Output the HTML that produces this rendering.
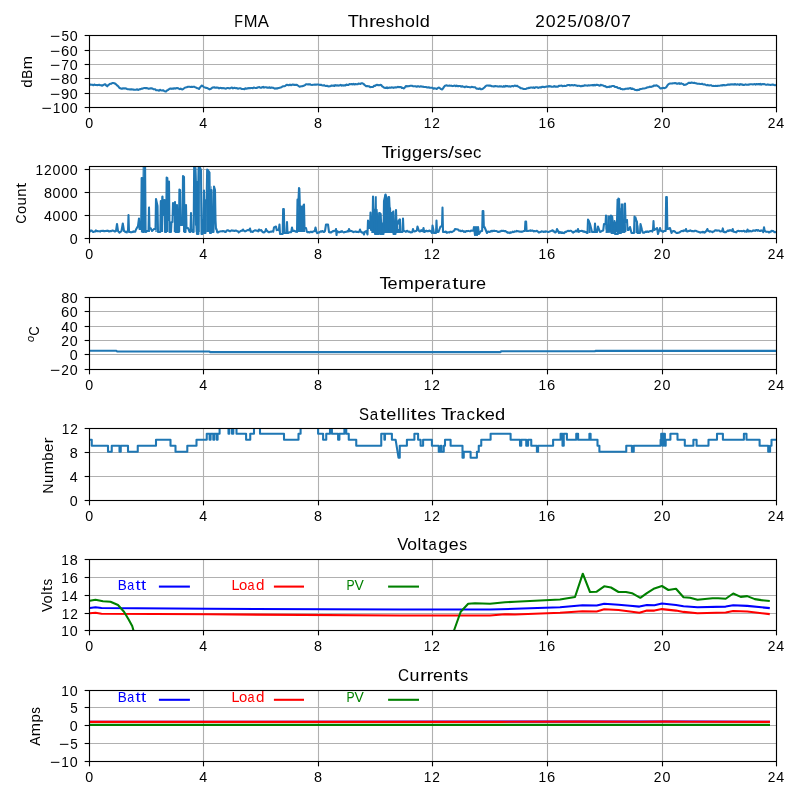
<!DOCTYPE html>
<html><head><meta charset="utf-8"><style>
html,body{margin:0;padding:0;background:#fff;}
body{width:800px;height:800px;overflow:hidden;}
svg{display:block;}
text{font-family:"Liberation Sans", sans-serif;}
svg{-webkit-font-smoothing:antialiased;will-change:transform;}
</style></head><body>
<svg width="800" height="800" viewBox="0 0 800 800">
<rect width="800" height="800" fill="#fff"/>
<line x1="89.5" y1="35.5" x2="89.5" y2="107.5" stroke="#b0b0b0" stroke-width="1.11"/>
<line x1="203.5" y1="35.5" x2="203.5" y2="107.5" stroke="#b0b0b0" stroke-width="1.11"/>
<line x1="318.5" y1="35.5" x2="318.5" y2="107.5" stroke="#b0b0b0" stroke-width="1.11"/>
<line x1="432.5" y1="35.5" x2="432.5" y2="107.5" stroke="#b0b0b0" stroke-width="1.11"/>
<line x1="547.5" y1="35.5" x2="547.5" y2="107.5" stroke="#b0b0b0" stroke-width="1.11"/>
<line x1="662.5" y1="35.5" x2="662.5" y2="107.5" stroke="#b0b0b0" stroke-width="1.11"/>
<line x1="776.5" y1="35.5" x2="776.5" y2="107.5" stroke="#b0b0b0" stroke-width="1.11"/>
<line x1="89.5" y1="107.5" x2="776.5" y2="107.5" stroke="#b0b0b0" stroke-width="1.11"/>
<line x1="89.5" y1="93.5" x2="776.5" y2="93.5" stroke="#b0b0b0" stroke-width="1.11"/>
<line x1="89.5" y1="78.5" x2="776.5" y2="78.5" stroke="#b0b0b0" stroke-width="1.11"/>
<line x1="89.5" y1="64.5" x2="776.5" y2="64.5" stroke="#b0b0b0" stroke-width="1.11"/>
<line x1="89.5" y1="50.5" x2="776.5" y2="50.5" stroke="#b0b0b0" stroke-width="1.11"/>
<line x1="89.5" y1="35.5" x2="776.5" y2="35.5" stroke="#b0b0b0" stroke-width="1.11"/>
<line x1="89.5" y1="166.5" x2="89.5" y2="238.5" stroke="#b0b0b0" stroke-width="1.11"/>
<line x1="203.5" y1="166.5" x2="203.5" y2="238.5" stroke="#b0b0b0" stroke-width="1.11"/>
<line x1="318.5" y1="166.5" x2="318.5" y2="238.5" stroke="#b0b0b0" stroke-width="1.11"/>
<line x1="432.5" y1="166.5" x2="432.5" y2="238.5" stroke="#b0b0b0" stroke-width="1.11"/>
<line x1="547.5" y1="166.5" x2="547.5" y2="238.5" stroke="#b0b0b0" stroke-width="1.11"/>
<line x1="662.5" y1="166.5" x2="662.5" y2="238.5" stroke="#b0b0b0" stroke-width="1.11"/>
<line x1="776.5" y1="166.5" x2="776.5" y2="238.5" stroke="#b0b0b0" stroke-width="1.11"/>
<line x1="89.5" y1="238.5" x2="776.5" y2="238.5" stroke="#b0b0b0" stroke-width="1.11"/>
<line x1="89.5" y1="215.5" x2="776.5" y2="215.5" stroke="#b0b0b0" stroke-width="1.11"/>
<line x1="89.5" y1="192.5" x2="776.5" y2="192.5" stroke="#b0b0b0" stroke-width="1.11"/>
<line x1="89.5" y1="169.5" x2="776.5" y2="169.5" stroke="#b0b0b0" stroke-width="1.11"/>
<line x1="89.5" y1="297.5" x2="89.5" y2="369.5" stroke="#b0b0b0" stroke-width="1.11"/>
<line x1="203.5" y1="297.5" x2="203.5" y2="369.5" stroke="#b0b0b0" stroke-width="1.11"/>
<line x1="318.5" y1="297.5" x2="318.5" y2="369.5" stroke="#b0b0b0" stroke-width="1.11"/>
<line x1="432.5" y1="297.5" x2="432.5" y2="369.5" stroke="#b0b0b0" stroke-width="1.11"/>
<line x1="547.5" y1="297.5" x2="547.5" y2="369.5" stroke="#b0b0b0" stroke-width="1.11"/>
<line x1="662.5" y1="297.5" x2="662.5" y2="369.5" stroke="#b0b0b0" stroke-width="1.11"/>
<line x1="776.5" y1="297.5" x2="776.5" y2="369.5" stroke="#b0b0b0" stroke-width="1.11"/>
<line x1="89.5" y1="369.5" x2="776.5" y2="369.5" stroke="#b0b0b0" stroke-width="1.11"/>
<line x1="89.5" y1="354.5" x2="776.5" y2="354.5" stroke="#b0b0b0" stroke-width="1.11"/>
<line x1="89.5" y1="340.5" x2="776.5" y2="340.5" stroke="#b0b0b0" stroke-width="1.11"/>
<line x1="89.5" y1="326.5" x2="776.5" y2="326.5" stroke="#b0b0b0" stroke-width="1.11"/>
<line x1="89.5" y1="311.5" x2="776.5" y2="311.5" stroke="#b0b0b0" stroke-width="1.11"/>
<line x1="89.5" y1="297.5" x2="776.5" y2="297.5" stroke="#b0b0b0" stroke-width="1.11"/>
<line x1="89.5" y1="428.5" x2="89.5" y2="500.5" stroke="#b0b0b0" stroke-width="1.11"/>
<line x1="203.5" y1="428.5" x2="203.5" y2="500.5" stroke="#b0b0b0" stroke-width="1.11"/>
<line x1="318.5" y1="428.5" x2="318.5" y2="500.5" stroke="#b0b0b0" stroke-width="1.11"/>
<line x1="432.5" y1="428.5" x2="432.5" y2="500.5" stroke="#b0b0b0" stroke-width="1.11"/>
<line x1="547.5" y1="428.5" x2="547.5" y2="500.5" stroke="#b0b0b0" stroke-width="1.11"/>
<line x1="662.5" y1="428.5" x2="662.5" y2="500.5" stroke="#b0b0b0" stroke-width="1.11"/>
<line x1="776.5" y1="428.5" x2="776.5" y2="500.5" stroke="#b0b0b0" stroke-width="1.11"/>
<line x1="89.5" y1="500.5" x2="776.5" y2="500.5" stroke="#b0b0b0" stroke-width="1.11"/>
<line x1="89.5" y1="476.5" x2="776.5" y2="476.5" stroke="#b0b0b0" stroke-width="1.11"/>
<line x1="89.5" y1="452.5" x2="776.5" y2="452.5" stroke="#b0b0b0" stroke-width="1.11"/>
<line x1="89.5" y1="428.5" x2="776.5" y2="428.5" stroke="#b0b0b0" stroke-width="1.11"/>
<line x1="89.5" y1="559.5" x2="89.5" y2="630.5" stroke="#b0b0b0" stroke-width="1.11"/>
<line x1="203.5" y1="559.5" x2="203.5" y2="630.5" stroke="#b0b0b0" stroke-width="1.11"/>
<line x1="318.5" y1="559.5" x2="318.5" y2="630.5" stroke="#b0b0b0" stroke-width="1.11"/>
<line x1="432.5" y1="559.5" x2="432.5" y2="630.5" stroke="#b0b0b0" stroke-width="1.11"/>
<line x1="547.5" y1="559.5" x2="547.5" y2="630.5" stroke="#b0b0b0" stroke-width="1.11"/>
<line x1="662.5" y1="559.5" x2="662.5" y2="630.5" stroke="#b0b0b0" stroke-width="1.11"/>
<line x1="776.5" y1="559.5" x2="776.5" y2="630.5" stroke="#b0b0b0" stroke-width="1.11"/>
<line x1="89.5" y1="630.5" x2="776.5" y2="630.5" stroke="#b0b0b0" stroke-width="1.11"/>
<line x1="89.5" y1="613.5" x2="776.5" y2="613.5" stroke="#b0b0b0" stroke-width="1.11"/>
<line x1="89.5" y1="595.5" x2="776.5" y2="595.5" stroke="#b0b0b0" stroke-width="1.11"/>
<line x1="89.5" y1="577.5" x2="776.5" y2="577.5" stroke="#b0b0b0" stroke-width="1.11"/>
<line x1="89.5" y1="559.5" x2="776.5" y2="559.5" stroke="#b0b0b0" stroke-width="1.11"/>
<line x1="89.5" y1="690.5" x2="89.5" y2="761.5" stroke="#b0b0b0" stroke-width="1.11"/>
<line x1="203.5" y1="690.5" x2="203.5" y2="761.5" stroke="#b0b0b0" stroke-width="1.11"/>
<line x1="318.5" y1="690.5" x2="318.5" y2="761.5" stroke="#b0b0b0" stroke-width="1.11"/>
<line x1="432.5" y1="690.5" x2="432.5" y2="761.5" stroke="#b0b0b0" stroke-width="1.11"/>
<line x1="547.5" y1="690.5" x2="547.5" y2="761.5" stroke="#b0b0b0" stroke-width="1.11"/>
<line x1="662.5" y1="690.5" x2="662.5" y2="761.5" stroke="#b0b0b0" stroke-width="1.11"/>
<line x1="776.5" y1="690.5" x2="776.5" y2="761.5" stroke="#b0b0b0" stroke-width="1.11"/>
<line x1="89.5" y1="761.5" x2="776.5" y2="761.5" stroke="#b0b0b0" stroke-width="1.11"/>
<line x1="89.5" y1="743.5" x2="776.5" y2="743.5" stroke="#b0b0b0" stroke-width="1.11"/>
<line x1="89.5" y1="725.5" x2="776.5" y2="725.5" stroke="#b0b0b0" stroke-width="1.11"/>
<line x1="89.5" y1="707.5" x2="776.5" y2="707.5" stroke="#b0b0b0" stroke-width="1.11"/>
<line x1="89.5" y1="690.5" x2="776.5" y2="690.5" stroke="#b0b0b0" stroke-width="1.11"/>
<clipPath id="c0"><rect x="89.5" y="35.5" width="687.0" height="72.0"/></clipPath>
<clipPath id="c1"><rect x="89.5" y="166.5" width="687.0" height="72.0"/></clipPath>
<clipPath id="c2"><rect x="89.5" y="297.5" width="687.0" height="72.0"/></clipPath>
<clipPath id="c3"><rect x="89.5" y="428.5" width="687.0" height="72.0"/></clipPath>
<clipPath id="c4"><rect x="89.5" y="559.5" width="687.0" height="71.0"/></clipPath>
<clipPath id="c5"><rect x="89.5" y="690.5" width="687.0" height="71.0"/></clipPath>
<path clip-path="url(#c1)" d="M140.9,232.5 L140.9,218 L141.49,218 L141.49,177.8 L142.5,177.8 L142.67,166.9 L143.67,166.9 L143.8,232.5Z" fill="#1f77b4"/>
<path clip-path="url(#c1)" d="M148.78,232 L148.99,206.8 L149.75,206.8 L149.92,232Z" fill="#1f77b4"/>
<path clip-path="url(#c1)" d="M155.4,232 L155.69,198.7 L156.24,198.7 L156.62,206 L156.7,232Z" fill="#1f77b4"/>
<path clip-path="url(#c1)" d="M160.95,232 L161.24,205 L161.58,196.3 L162.42,196.3 L163.05,202 L163.05,232Z" fill="#1f77b4"/>
<path clip-path="url(#c1)" d="M166.01,232 L166.34,177.3 L167.06,177.3 L167.69,181.6 L168.11,200 L168.19,232Z" fill="#1f77b4"/>
<path clip-path="url(#c1)" d="M173.75,232 L173.92,205 L174.55,202.5 L175.39,203 L176.15,208 L176.15,232Z" fill="#1f77b4"/>
<path clip-path="url(#c1)" d="M178.79,232 L179.08,189.2 L179.92,189.2 L180.21,232Z" fill="#1f77b4"/>
<path clip-path="url(#c1)" d="M183.02,232 L183.28,175.9 L184.03,175.9 L184.12,204.9 L185.17,204.9 L185.38,232Z" fill="#1f77b4"/>
<path clip-path="url(#c1)" d="M190.8,232 L191.01,213 L191.59,213 L191.8,232Z" fill="#1f77b4"/>
<path clip-path="url(#c1)" d="M195.73,232 L195.94,167.3 L196.48,167.3 L196.78,181 L197.41,181 L197.66,167.3 L199.09,167.3 L199.67,178 L199.67,232Z" fill="#1f77b4"/>
<path clip-path="url(#c1)" d="M206.2,232 L206.45,190.6 L207.29,190.6 L207.79,169.7 L208.76,169.7 L209.6,172.6 L209.81,190 L210.23,190 L210.44,215 L210.78,186.3 L211.49,186.3 L211.7,232Z" fill="#1f77b4"/>
<path clip-path="url(#c1)" d="M282.75,232 L282.88,208.5 L283.72,208.5 L283.85,232Z" fill="#1f77b4"/>
<path clip-path="url(#c1)" d="M297.9,232 L298.14,199 L298.78,199 L298.94,187.9 L300.3,187.9 L300.7,205.9 L302.38,205.9 L302.7,204.4 L303.9,204.4 L304.94,228 L305.1,232Z" fill="#1f77b4"/>
<path clip-path="url(#c1)" d="M371.3,233 L371.54,220 L372.74,220 L372.9,212.1 L374.58,212.1 L374.82,196.3 L376.74,196.3 L376.9,209 L377.54,209 L378.9,223.5 L379.54,223.5 L379.78,213.2 L381.7,213.2 L382.1,222.5 L382.9,222.5 L383.06,214.6 L384.1,201.5 L384.5,194.6 L386.66,194.6 L387.22,197.4 L388.82,197.4 L388.98,207.7 L389.94,207.7 L390.18,218 L391.06,212.1 L392.66,212.1 L392.66,210.4 L394.34,210.4 L395.14,223.5 L395.86,223.5 L396.02,219.7 L397.62,219.7 L398.34,229 L399.14,229 L399.3,218.7 L400.9,218.7 L401.46,230.4 L401.7,233Z" fill="#1f77b4"/>
<path clip-path="url(#c1)" d="M475.6,227.5 L477.9,227.5 L477.9,233 L476.44,235 L475.6,234Z" fill="#1f77b4"/>
<path clip-path="url(#c1)" d="M588.51,233 L588.63,220 L589.22,220 L590.4,226 L590.69,233Z" fill="#1f77b4"/>
<path clip-path="url(#c1)" d="M605.6,233 L605.76,224.4 L607.2,224.4 L607.36,215.6 L608.88,215.6 L609.6,225 L610.32,215.6 L613.12,215.6 L613.76,221.7 L615.92,221.7 L616.56,199 L619.36,199 L619.6,211.2 L620.48,211.2 L620.64,203.4 L623.6,203.4 L624,220 L625.36,220 L626.4,232 L605.6,233Z" fill="#1f77b4"/>
<path clip-path="url(#c1)" d="M635.47,233 L635.63,216.5 L636.3,216.5 L637.14,222 L638.4,226 L639.03,233Z" fill="#1f77b4"/>
<path clip-path="url(#c0)" d="M89.5,84.8 L90.47,84.58 L91.44,84.74 L92.41,84.79 L93.38,85.19 L94.35,84.51 L95.32,85.07 L96.29,85.01 L97.26,85.09 L98.23,85.05 L99.2,84.8 L100.2,85.2 L101.2,85.25 L102.2,85.7 L103.2,85.04 L104.2,84.58 L105.2,84.2 L106.2,85.5 L107.2,86.3 L108.3,85.05 L109.4,84.29 L110.5,83.7 L111.4,83.69 L112.3,83.01 L113.2,83 L114.3,83.21 L115.4,83.78 L116.5,84.8 L117.42,85.7 L118.35,86.34 L119.28,87.78 L120.2,88.2 L121.15,88.62 L122.1,88.79 L123.05,88.21 L124,88.5 L125,88.28 L126,88.44 L127,88.95 L128,89.29 L129,89.2 L130,89.4 L130.9,89.18 L131.8,89.37 L132.7,89.57 L133.6,89.64 L134.5,89.72 L135.4,89.83 L136.3,89.69 L137.2,89.22 L138.1,89.89 L139,89.6 L139.9,89.13 L140.8,89.1 L141.7,88.65 L142.6,88.69 L143.5,88.2 L144.4,87.99 L145.3,88.09 L146.2,88.15 L147.1,88.13 L148,88.5 L148.9,88.85 L149.8,88.57 L150.7,88.34 L151.6,88.41 L152.5,88.5 L153.4,89.28 L154.3,89.19 L155.2,89.28 L156.1,90.14 L157,90.2 L158,90.34 L159,90.64 L160,89.84 L161,90.18 L162,90.49 L163,90.2 L164,90.94 L165,91.44 L166,91.5 L166.9,90.49 L167.8,90.11 L168.7,89.36 L169.6,88.82 L170.5,88.5 L171.44,88.89 L172.38,88.5 L173.31,88.77 L174.25,88.24 L175.19,88.64 L176.12,88.23 L177.06,88.02 L178,88.2 L178.9,88.69 L179.8,89.08 L180.7,88.57 L181.6,89.25 L182.5,89.4 L183.5,88.87 L184.5,87.88 L185.5,87.5 L186.5,87.25 L187.5,86.91 L188.5,86.83 L189.5,86.75 L190.5,86.92 L191.5,86.7 L192.4,87 L193.3,86.75 L194.2,86.74 L195.1,87.18 L196,87.5 L197,88.16 L198,88.22 L199,89 L200.3,87.13 L201.6,85.6 L202.73,85.97 L203.87,87.13 L205,87.5 L205.9,87.92 L206.8,87.87 L207.7,88.28 L208.6,88.93 L209.5,89.4 L210.43,88.97 L211.35,88.58 L212.27,87.61 L213.2,87.5 L214.18,87.27 L215.16,87.82 L216.14,87.63 L217.12,87.58 L218.1,87.68 L219.08,88.33 L220.06,87.82 L221.04,88.12 L222.02,88 L223,88.2 L224,88.12 L225,88.53 L226,88.65 L227,88.08 L228,87.93 L229,88.2 L230,88.36 L231,87.83 L232,87.61 L233,88.36 L234,87.88 L235,87.9 L235.94,88.33 L236.88,88.09 L237.81,88.66 L238.75,88.41 L239.69,88.28 L240.62,88.29 L241.56,88.91 L242.5,89 L243.44,89.03 L244.38,89.17 L245.31,88.33 L246.25,88.71 L247.19,88.38 L248.12,88.4 L249.06,87.98 L250,88.2 L250.94,87.92 L251.88,88.04 L252.81,88.32 L253.75,87.5 L254.69,87.75 L255.62,87.95 L256.56,88.01 L257.5,87.5 L258.44,87.19 L259.38,87.09 L260.31,87.79 L261.25,87.78 L262.19,87.3 L263.12,86.87 L264.06,87.62 L265,87.2 L265.94,87.17 L266.88,87.71 L267.81,87.53 L268.75,87.79 L269.69,87.27 L270.62,87.91 L271.56,87.47 L272.5,87.8 L273.4,87.89 L274.3,88.47 L275.2,88.64 L276.1,88.23 L277,88.7 L277.9,88.15 L278.8,88.01 L279.7,87.82 L280.6,87.4 L281.5,87.2 L282.4,86.46 L283.3,86.17 L284.2,86.2 L285.1,85.96 L286,85.2 L287,84.72 L288,85.12 L289,85.23 L290,84.52 L291,85.17 L292,84.8 L292.9,84.46 L293.8,84.89 L294.7,84.85 L295.6,84.91 L296.5,84.8 L297.5,85.26 L298.5,85.99 L299.5,86.7 L300.4,86.57 L301.3,86.23 L302.2,86.24 L303.1,85.85 L304,85.7 L305,85.14 L306,84.27 L307,84.2 L308,84.41 L309,84.39 L310,84.26 L311,84.84 L312,84.95 L313,84.8 L314,84.76 L315,84.51 L316,84.78 L317,84.45 L318,84.47 L319,84.8 L320,84.89 L321,84.73 L322,85.2 L323,85.41 L324,85.14 L325,85.7 L326,86.02 L327,85.72 L328,86.3 L328.9,86.4 L329.8,86.33 L330.7,85.98 L331.6,85.46 L332.5,85.75 L333.4,85.53 L334.3,85.94 L335.2,85.09 L336.1,85.63 L337,85.2 L337.94,85.65 L338.88,85.41 L339.81,85.48 L340.75,84.92 L341.69,85.63 L342.62,85.19 L343.56,85.61 L344.5,85.2 L345.5,85.41 L346.5,84.57 L347.5,84.96 L348.5,84.92 L349.5,83.98 L350.5,84.2 L351.5,84.07 L352.5,84.43 L353.5,83.89 L354.5,84.56 L355.5,84 L356.5,84.2 L357.5,84.33 L358.5,83.58 L359.5,83.75 L360.5,83.98 L361.5,83.19 L362.5,83.3 L363.43,83.84 L364.35,84.81 L365.27,85.39 L366.2,86.3 L367.2,86 L368.2,86.25 L369.2,86.35 L370.2,87.16 L371.2,87.05 L372.2,87 L373.15,86.91 L374.1,85.8 L375.05,85.91 L376,85.2 L377.04,84.81 L378.08,85.15 L379.12,85.2 L380.16,84.91 L381.2,85 L382.2,86.27 L383.2,86.92 L384.2,87.8 L385.12,87.84 L386.04,88.08 L386.97,87.34 L387.89,88.11 L388.81,87.75 L389.73,87.5 L390.66,87.83 L391.58,87.32 L392.5,87.5 L393.44,87.88 L394.38,87.44 L395.31,87.19 L396.25,87.49 L397.19,87.14 L398.12,86.83 L399.06,87.28 L400,87 L400.93,86.97 L401.85,88.04 L402.77,87.9 L403.7,88.5 L404.85,87.38 L406,86 L406.9,86.47 L407.8,86.14 L408.7,86.24 L409.6,85.95 L410.5,85.7 L411.4,85.76 L412.3,85.89 L413.2,86.34 L414.1,86.21 L415,86.3 L415.9,86.38 L416.8,86.8 L417.7,86.18 L418.6,86.33 L419.5,86.79 L420.4,86.29 L421.3,86.34 L422.2,86.73 L423.1,86.58 L424,87 L424.94,86.97 L425.88,86.95 L426.81,87.38 L427.75,87.48 L428.69,87.23 L429.62,87.71 L430.56,87.68 L431.5,87.8 L432.54,87.71 L433.58,88.67 L434.62,88.29 L435.66,88.44 L436.7,89 L437.85,87.89 L439,87.5 L440,88.26 L441,89.1 L442,89.4 L443,88.42 L444,86.85 L445,85.7 L445.9,85.49 L446.8,85.26 L447.7,85.83 L448.6,85.76 L449.5,85.57 L450.4,85.83 L451.3,85.65 L452.2,86.09 L453.1,85.91 L454,85.7 L454.9,85.57 L455.8,86.26 L456.7,85.59 L457.6,86.13 L458.5,86.12 L459.4,86.06 L460.3,86 L461.2,86.75 L462.1,86.16 L463,86.7 L463.95,86.79 L464.91,87.19 L465.86,86.51 L466.82,86.61 L467.77,87.02 L468.73,86.98 L469.68,87.15 L470.64,87.35 L471.59,86.82 L472.55,86.98 L473.5,87.2 L474.4,87.32 L475.3,87.39 L476.2,88.45 L477.1,88.65 L478,88.7 L478.9,88.95 L479.8,88.38 L480.7,89.19 L481.6,89.16 L482.5,89 L483.43,88.14 L484.35,87.57 L485.27,86.48 L486.2,85.7 L487.11,85.5 L488.03,85.44 L488.94,85.61 L489.86,85.48 L490.77,85.8 L491.69,86.22 L492.6,86.23 L493.51,86.41 L494.43,86.34 L495.34,85.99 L496.26,86.3 L497.17,86.24 L498.09,86.61 L499,86.4 L499.95,86.41 L500.91,86.17 L501.86,86.5 L502.82,86.78 L503.77,86.1 L504.73,86.69 L505.68,85.9 L506.64,86.11 L507.59,86.08 L508.55,86.53 L509.5,86.3 L510.44,86.63 L511.38,86.37 L512.31,85.92 L513.25,86.34 L514.19,85.77 L515.12,85.62 L516.06,86.14 L517,85.7 L517.9,86.32 L518.8,86.87 L519.7,87.35 L520.6,88.13 L521.5,88.2 L522.5,88.44 L523.5,89.04 L524.5,89 L525.4,88.94 L526.3,88.84 L527.2,88.22 L528.1,88.24 L529,87.8 L529.92,87.84 L530.85,87.58 L531.77,87.47 L532.69,87.82 L533.62,87.3 L534.54,88.03 L535.46,87.32 L536.38,87.19 L537.31,87.24 L538.23,87.96 L539.15,87.41 L540.08,87.2 L541,87.5 L542,86.89 L543,86.72 L544,87.12 L545,86.89 L546,86.76 L547,86.4 L547.9,86.61 L548.8,86.01 L549.7,86.48 L550.6,86.28 L551.5,86.69 L552.4,86.69 L553.3,86.75 L554.2,86.01 L555.1,86.73 L556,86.4 L556.94,86.7 L557.88,86.65 L558.81,85.82 L559.75,85.84 L560.69,85.68 L561.62,85.53 L562.56,86.19 L563.5,86.08 L564.44,85.85 L565.38,85.94 L566.31,85.69 L567.25,85.31 L568.19,85.06 L569.12,84.99 L570.06,85.51 L571,85.2 L571.9,85.01 L572.8,85.2 L573.7,85.37 L574.6,85.09 L575.5,85.38 L576.4,85.48 L577.3,85.95 L578.2,85.72 L579.1,85.76 L580,86 L580.95,86.34 L581.91,85.86 L582.86,86.1 L583.82,85.82 L584.77,85.21 L585.73,85.49 L586.68,85.43 L587.64,85.66 L588.59,85.21 L589.55,85.46 L590.5,85.2 L591.42,85.23 L592.35,84.94 L593.27,85.53 L594.19,84.83 L595.12,85.49 L596.04,84.9 L596.96,84.75 L597.88,84.93 L598.81,85.44 L599.73,85.63 L600.65,84.75 L601.58,85.19 L602.5,85.2 L603.4,85.59 L604.3,86.27 L605.2,86.12 L606.1,86.8 L607,87.2 L608,86.86 L609,87.1 L610,86.38 L611,86.8 L612,86.01 L613,86 L614,86.11 L615,86.91 L616,87.1 L617,87.12 L618,87.96 L619,88.2 L619.9,88.04 L620.8,88.9 L621.7,89.04 L622.6,89.34 L623.5,89.3 L624.5,89.23 L625.5,88.8 L626.5,88.66 L627.5,88.47 L628.5,88.73 L629.5,88.2 L630.44,88.08 L631.38,89.05 L632.31,88.52 L633.25,88.94 L634.19,89.24 L635.12,90.06 L636.06,89.95 L637,90.2 L638,89.81 L639,89.98 L640,89.11 L641,89.03 L642,88.81 L643,88.5 L644,88.51 L645,88.29 L646,87.98 L647,87.5 L648,87.26 L649,87.2 L649.94,86.64 L650.88,87.01 L651.81,86.6 L652.75,86.42 L653.69,85.65 L654.62,85.64 L655.56,85.7 L656.5,85.2 L657.4,85.93 L658.3,86.18 L659.2,87.15 L660.1,88.19 L661,88.5 L661.9,88.12 L662.8,87.94 L663.7,87.9 L664.6,88.12 L665.5,87.8 L666.42,87.08 L667.35,85.44 L668.28,84.42 L669.2,83.7 L670.17,83.42 L671.14,83.43 L672.11,83.55 L673.09,83.17 L674.06,83.26 L675.03,83.08 L676,83.3 L677,83.79 L678,83.64 L679,83.14 L680,83.98 L681,83.27 L682,83.7 L683,83.96 L684,84.87 L685,84.8 L685.9,84.65 L686.8,84.17 L687.7,83.48 L688.6,82.85 L689.5,82.7 L690.5,82.92 L691.5,82.55 L692.5,82.74 L693.5,83 L694.5,82.78 L695.5,83.3 L696.44,83.32 L697.38,83.79 L698.31,83.81 L699.25,83.75 L700.19,83.98 L701.12,83.94 L702.06,83.77 L703,84.2 L703.9,84.44 L704.8,84.41 L705.7,84.87 L706.6,85.17 L707.5,84.89 L708.4,85.17 L709.3,85.47 L710.2,85.33 L711.1,85.31 L712,85.7 L712.94,85.9 L713.88,86.04 L714.81,85.95 L715.75,85.88 L716.69,86.02 L717.62,85.86 L718.56,85.83 L719.5,85.7 L720.4,85.56 L721.3,85.33 L722.2,85.52 L723.1,84.94 L724,85.13 L724.9,85.35 L725.8,85.19 L726.7,85.02 L727.6,84.58 L728.5,84.63 L729.4,84.56 L730.3,84.61 L731.2,84.32 L732.1,84.46 L733,84.2 L733.9,84.63 L734.8,83.99 L735.7,84.46 L736.6,84.61 L737.5,84.3 L738.4,84.43 L739.3,84.91 L740.2,84.1 L741.1,84.6 L742,84.29 L742.9,84.89 L743.8,85.08 L744.7,84.74 L745.6,84.4 L746.5,84.8 L747.4,84.75 L748.3,84.6 L749.2,84.64 L750.1,84.33 L751,84.2 L751.92,84.33 L752.85,84.5 L753.77,84.22 L754.69,84.12 L755.62,84.6 L756.54,83.94 L757.46,84.37 L758.38,84.1 L759.31,84.44 L760.23,83.86 L761.15,84.64 L762.08,84.07 L763,84.2 L764,84 L765,84.4 L766,84.8 L766.91,84.71 L767.82,84.36 L768.73,84.73 L769.64,84.73 L770.55,84.98 L771.45,84.67 L772.36,84.59 L773.27,84.55 L774.18,85.02 L775.09,85.2 L776,84.8" fill="none" stroke="#1f77b4" stroke-width="2.08" stroke-linejoin="round" stroke-linecap="butt"/>
<path clip-path="url(#c1)" d="M89.5,230 L90.22,231.32 L90.93,230.57 L91.65,230.54 L92.36,231.22 L93.08,231.87 L93.8,231.9 L94.51,231.45 L95.23,231.57 L95.95,230.32 L96.66,231.2 L97.38,231.02 L98.09,231.23 L98.81,231.24 L99.53,231.29 L100.24,231.63 L100.96,230.88 L101.68,231.03 L102.39,230.87 L103.11,230.68 L103.82,231.16 L104.54,231.05 L105.26,231.1 L105.97,230.9 L106.69,231 L107.41,230.64 L108.12,230.83 L108.84,231.36 L109.55,231.39 L110.27,231 L110.99,231.19 L111.7,230.89 L112.42,230.5 L113.14,230.82 L113.85,230.81 L114.57,231.37 L115.28,231.48 L116,231 L117,224 L118,231 L118.7,231.75 L119.4,232.66 L120.1,232.04 L120.8,231.59 L121.5,231 L122.8,223.5 L124,231 L124.7,231.29 L125.4,232.11 L126.1,231.92 L126.8,232.35 L127.5,231 L128,231 L128.5,215 L129,232 L130,232 L130.75,232.29 L131.5,232.33 L132.25,231.85 L133,231.97 L133.75,231.31 L134.5,231.77 L135.25,231.61 L136,229.5 L138,226 L139,218.5 L139.5,229 L140,229 L141.15,229 L141.65,178 L142.35,178 L143,232 L143.9,232 L144.4,167 L145.1,167 L145.6,232 L146,232 L147,231 L148.5,231 L149,207.5 L149.5,228 L150.5,228 L152,231 L154,229 L155.5,229 L156,199 L157.5,206 L158,232 L159,232 L160.3,232 L160.8,201 L161.5,225 L162,225 L162.5,196.5 L163,215 L163.5,215 L164,215 L164.5,200 L165,232 L165.5,232 L166.15,232 L166.65,177.5 L167.35,178 L167.85,220 L168.5,220 L169,181.5 L169.5,232 L170.5,232 L171,232 L171.5,222 L172.5,222 L173,203 L173.5,215 L174,215 L174.5,215 L175,202 L175.5,232 L176,232 L176.5,232 L177,205 L177.5,232 L178,232 L178.9,232 L179.4,189.5 L180.1,190 L180.6,225 L181.5,225 L182.5,225 L183,176 L184,177 L184.5,232 L185,232 L185.5,232 L186,205 L186.5,228 L187,228 L188,228 L189.5,232 L190.5,232 L191,213 L191.5,230 L192,230 L193,232 L193.65,232 L194.15,167 L194.85,167 L195.5,181.5 L196,225 L196.5,225 L197,234 L198.4,234 L198.9,167 L199.6,167 L201,170 L201.5,234 L202,234 L202.5,234 L203,220 L203.5,220 L204,190.5 L204.5,233 L205,233 L205.5,233 L206,200 L206.65,200 L207.15,169.5 L207.85,170 L209.5,172.5 L210,233 L211,233 L211.5,190 L212,232 L212.5,232 L213.5,232 L214,186.5 L215,190 L215.5,220 L216,229 L216.5,229 L217.22,232.25 L217.93,232.56 L218.65,231.73 L219.36,231.7 L220.08,231.41 L220.8,231.33 L221.51,231.27 L222.23,231.38 L222.95,230.93 L223.66,231.22 L224.38,231.38 L225.09,232.05 L225.81,231.88 L226.53,230.7 L227.24,230.26 L227.96,230.3 L228.68,230.62 L229.39,231.16 L230.11,231.31 L230.82,230.81 L231.54,230.37 L232.26,230.61 L232.97,230.53 L233.69,230.67 L234.41,230.98 L235.12,230.71 L235.84,230.51 L236.55,230.7 L237.27,231.26 L237.99,231.21 L238.7,232.32 L239.42,231.76 L240.14,231.39 L240.85,230.91 L241.57,230.63 L242.28,230.72 L243,229.5 L243.7,230.66 L244.4,230.95 L245.1,231.44 L245.8,231.04 L246.5,230.6 L247.2,230.34 L247.9,230.03 L248.6,230.25 L249.3,229.94 L250,228.5 L250.75,231.83 L251.5,231.43 L252.25,231.91 L253,231.71 L253.75,230.91 L254.5,230.59 L255.25,230.32 L256,230.43 L256.75,230.73 L257.5,230.74 L258.25,231.33 L259,229.5 L259.7,230.29 L260.4,230.55 L261.1,229.99 L261.8,230.81 L262.5,231.82 L263.2,232.32 L263.9,232.48 L264.6,231.8 L265.3,231.61 L266,229 L266.73,230.84 L267.45,231.08 L268.18,231.96 L268.91,232.29 L269.64,232 L270.36,231.8 L271.09,231.64 L271.82,231.6 L272.55,231.27 L273.27,231.66 L274,227.5 L276,226.5 L276.7,230.14 L277.4,229.78 L278.1,229.96 L278.8,230.14 L279.5,224.5 L280,234 L280.5,234 L282.65,234 L283.15,209 L283.85,209 L284.35,233 L285,233 L286.5,233 L287,222 L287.5,233 L288,233 L288.8,232.54 L289.6,232.27 L290.4,232.22 L291.2,232.1 L292,227.5 L292.71,230.95 L293.43,231 L294.14,230.77 L294.86,231.16 L295.57,231.65 L296.29,231.37 L297,232 L297.5,199.5 L298.5,199.5 L299,188 L299.5,206 L300.4,206 L301.1,206.5 L302.5,209 L304,204.5 L304.5,228 L306,228 L306.73,231.46 L307.46,232.17 L308.19,231.92 L308.92,232.31 L309.65,232.38 L310.38,231.77 L311.12,231.71 L311.85,232.17 L312.58,231.95 L313.31,231.38 L314.04,231.15 L314.77,230.98 L315.5,227.5 L316.5,232 L317.21,233.09 L317.92,232.73 L318.62,232.39 L319.33,232.5 L320.04,231.75 L320.75,231.27 L321.46,231.75 L322.17,231.09 L322.88,231.34 L323.58,232.07 L324.29,231.98 L325,231 L326,224.5 L328,224.5 L329,232 L329.7,232.39 L330.4,232.26 L331.1,232.5 L331.8,231.88 L332.5,231.57 L333.2,230.86 L333.9,231.26 L334.6,230.74 L335.3,230.81 L336,229 L336.5,235 L337,231 L337.71,232.07 L338.41,231.81 L339.12,232.38 L339.82,232.03 L340.53,231.53 L341.24,231.92 L341.94,231.15 L342.65,231.73 L343.35,232.26 L344.06,232.41 L344.76,232.03 L345.47,231.92 L346.18,231.67 L346.88,231.7 L347.59,231.09 L348.29,231.5 L349,229 L349.73,231.22 L350.47,230.83 L351.2,231.01 L351.93,231.28 L352.67,231.65 L353.4,232.18 L354.13,231.78 L354.87,231.66 L355.6,231.42 L356.33,231.88 L357.07,231.71 L357.8,231.91 L358.53,232.12 L359.27,231.66 L360,229.5 L360.8,231.75 L361.6,232.22 L362.4,232.78 L363.2,232.51 L364,234.5 L364.7,231.74 L365.4,231.7 L366.1,231.22 L366.8,232.25 L367.5,234.5 L368,220.5 L369,228 L370,228 L370.5,212.5 L371,230 L372,230 L372.5,230 L373,196.5 L373.5,209.5 L374.5,209.5 L375,234 L377,234 L378.65,234 L379.15,213 L379.85,213 L380.35,234 L381.5,234 L383.5,234 L384,201 L385.5,194.5 L386,230 L386.5,230 L387.9,230 L388.4,197 L389.1,197 L389.6,208 L390,208 L390.5,218 L391.5,218 L393,212 L393.5,234 L394.5,234 L395.5,234 L396,210 L396.5,224 L397.5,224 L399.5,219.5 L400,232 L401,232 L402.5,232 L403,218.5 L403.5,231 L404.5,231 L405.21,231.47 L405.92,231.82 L406.62,231.01 L407.33,230.78 L408.04,231.62 L408.75,231.86 L409.46,231.64 L410.17,232.26 L410.88,232.36 L411.58,232.22 L412.29,232.11 L413,229 L413.75,231.26 L414.5,231.39 L415.25,231.25 L416,230.95 L416.75,230.64 L417.5,226.5 L419,231 L419.75,231.56 L420.5,231.32 L421.25,230.14 L422,230.89 L422.75,231.28 L423.5,228 L424.21,232 L424.92,231.7 L425.62,230.97 L426.33,230.66 L427.04,231.34 L427.75,231.01 L428.46,231.11 L429.17,230.55 L429.88,230.74 L430.58,231.53 L431.29,231.52 L432,233 L432.5,225.5 L434,233 L436,233 L436.5,220.5 L437,232 L438.5,232 L440.5,226.5 L442,226.5 L442.5,207.5 L443,232 L444.5,232 L445.2,231.69 L445.9,231.46 L446.6,232.65 L447.3,232.59 L448,232.28 L448.7,232.26 L449.4,232.39 L450.1,231.73 L450.8,231.67 L451.5,232.1 L452.2,231.9 L452.9,231.47 L453.6,231.06 L454.3,230.51 L455,229 L458,229.5 L458.73,230.43 L459.45,230.69 L460.18,230.54 L460.91,231.18 L461.64,230.99 L462.36,230.65 L463.09,231.11 L463.82,231.83 L464.55,231.38 L465.27,231.95 L466,231.26 L466.73,230.97 L467.45,231.14 L468.18,230.87 L468.91,231.1 L469.64,231.29 L470.36,231.31 L471.09,230.49 L471.82,230.74 L472.55,230.73 L473.27,230.76 L474,227 L475,235 L476,227 L477,235 L478,227 L479,234 L481,231 L482.15,231 L482.65,211 L483.35,211 L483.85,227 L484.5,227 L487,233 L487.71,231.68 L488.42,231.47 L489.13,232.05 L489.85,231.9 L490.56,231.31 L491.27,230.83 L491.98,231.4 L492.69,230.86 L493.4,230.95 L494.12,230.65 L494.83,230.95 L495.54,230.98 L496.25,230.96 L496.96,231.14 L497.67,231.86 L498.38,231.86 L499.1,231.95 L499.81,231.46 L500.52,231.41 L501.23,230.88 L501.94,230.8 L502.65,230.98 L503.37,230.85 L504.08,231.11 L504.79,231 L505.5,231.14 L506.21,231.56 L506.92,232.12 L507.63,232.78 L508.35,232.47 L509.06,232.43 L509.77,233.04 L510.48,232.22 L511.19,232.6 L511.9,232.38 L512.62,231.67 L513.33,232.11 L514.04,231.9 L514.75,231.39 L515.46,231.45 L516.17,231.49 L516.88,230.85 L517.6,231.21 L518.31,231.22 L519.02,231.55 L519.73,231.59 L520.44,231.72 L521.15,231.61 L521.87,231.91 L522.58,231.51 L523.29,231.31 L524,231 L524.9,231 L525.4,221.5 L526.1,221.5 L526.6,231 L527.5,231 L528.2,230.95 L528.9,230.83 L529.61,230.8 L530.31,230.28 L531.01,230.95 L531.71,230.57 L532.42,230.52 L533.12,230.84 L533.82,231.41 L534.52,230.98 L535.23,231.28 L535.93,231.31 L536.63,230.75 L537.33,231.14 L538.04,231.72 L538.74,232.39 L539.44,232.38 L540.14,232.05 L540.85,231.87 L541.55,231.31 L542.25,231.42 L542.95,231.55 L543.65,232.02 L544.36,231.61 L545.06,231.84 L545.76,231.34 L546.46,231.41 L547.17,231.63 L547.87,232.02 L548.57,231.92 L549.27,231.76 L549.98,231.28 L550.68,231.21 L551.38,230.82 L552.08,230.49 L552.79,230.24 L553.49,231.47 L554.19,231.38 L554.89,232.48 L555.6,232.4 L556.3,231.53 L557,229 L559,233 L559.7,231.78 L560.41,232.34 L561.11,232.94 L561.81,232.32 L562.52,233.02 L563.22,232.81 L563.93,233.12 L564.63,232.59 L565.33,231.81 L566.04,232.05 L566.74,231.51 L567.44,230.95 L568.15,230.79 L568.85,231.13 L569.56,231.04 L570.26,230.84 L570.96,230.7 L571.67,231.34 L572.37,231.77 L573.07,232.7 L573.78,231.69 L574.48,231.86 L575.19,231.44 L575.89,230.56 L576.59,231.5 L577.3,231.53 L578,229 L578.75,231.95 L579.5,231.34 L580.25,231 L581,230.98 L581.75,230.88 L582.5,231.04 L583.25,231.77 L584,231.34 L584.75,231.99 L585.5,231.86 L586.25,232.37 L587,233 L587.5,233 L588,219.5 L590,224 L592,232 L594.5,232 L595,223.5 L595.5,232 L597,232 L598,226.5 L600,232 L600.8,231.74 L601.6,231.15 L602.4,230.79 L603.2,230.55 L604,224 L605.5,224 L606,215.5 L606.5,229 L607.5,229 L608.5,229 L609,218 L611,215.5 L611.5,233 L613,233 L614,233 L614.5,221 L615,234 L616.5,234 L617.9,234 L618.4,198.5 L619.1,199 L619.6,233 L620,233 L621,233 L621.5,208.5 L622,232 L622.5,232 L624.5,232 L625,203.5 L625.5,222 L626,222 L627,220 L627.5,230 L628.5,230 L630,227 L631.5,233 L634,233 L634.5,216.5 L637,222 L637.5,233 L639,233 L640,233 L640.5,224 L642,230 L642.73,232.42 L643.47,232.71 L644.2,232.63 L644.93,232.02 L645.67,231.52 L646.4,232.02 L647.13,231.43 L647.87,231.86 L648.6,231.87 L649.33,231.34 L650.07,231.25 L650.8,230.97 L651.53,230.82 L652.27,231.68 L653,230 L653.5,221 L654,230 L654.5,230 L657,228 L658,234 L660,228 L660.8,230.81 L661.6,231.12 L662.4,231.29 L663.2,231.87 L664,231 L665.65,231 L666.15,197 L666.85,197 L667.35,229 L668,229 L670,228 L671.5,233 L672.23,231.39 L672.95,231.41 L673.67,230.97 L674.4,231.31 L675.12,231.75 L675.85,232.45 L676.58,233.03 L677.3,232.94 L678.02,232.66 L678.75,232.69 L679.48,232.4 L680.2,231.88 L680.92,231.45 L681.65,230.92 L682.38,230.88 L683.1,231.26 L683.83,230.35 L684.55,230.7 L685.27,230.82 L686,229 L686.71,231.33 L687.43,231.51 L688.14,231.25 L688.85,230.76 L689.57,230.89 L690.28,230.4 L690.99,230.77 L691.71,231.24 L692.42,231.13 L693.13,231.15 L693.85,231.35 L694.56,230.8 L695.27,230.77 L695.99,230.87 L696.7,231.23 L697.41,231.4 L698.13,231.77 L698.84,231.91 L699.55,232.18 L700.27,232.62 L700.98,232.27 L701.69,232.29 L702.41,231.76 L703.12,232.41 L703.83,231.93 L704.55,232.57 L705.26,232.14 L705.97,231.27 L706.69,230.55 L707.4,229 L708.13,230.97 L708.87,231.06 L709.6,231.64 L710.33,231.24 L711.07,231.54 L711.8,231.72 L712.53,232.2 L713.27,231.54 L714,231.39 L714.73,230.65 L715.47,230.23 L716.2,230.21 L716.93,230.82 L717.67,230.56 L718.4,230.48 L719.13,230.51 L719.87,231.22 L720.6,231.53 L721.33,231.34 L722.07,231.22 L722.8,228.4 L723.51,231.76 L724.21,232.16 L724.92,231.89 L725.63,232.3 L726.34,231.81 L727.04,231.17 L727.75,230.47 L728.46,231.04 L729.16,230.34 L729.87,230.68 L730.58,230.19 L731.29,230.38 L731.99,231.06 L732.7,229 L733.4,231.75 L734.11,231.44 L734.81,232.08 L735.52,231.99 L736.22,232.39 L736.93,231.36 L737.63,230.99 L738.34,230.81 L739.04,230.92 L739.75,231.18 L740.45,231.09 L741.16,230.98 L741.86,231.24 L742.57,231.21 L743.27,230.79 L743.98,230.79 L744.68,231.59 L745.39,231.56 L746.09,231.08 L746.8,231.81 L747.5,229.5 L748.22,230.83 L748.93,231.57 L749.65,230.87 L750.37,230.97 L751.09,231.35 L751.8,231.3 L752.52,230.88 L753.24,230.41 L753.96,230.67 L754.67,230.45 L755.39,230.82 L756.11,230.04 L756.83,230.07 L757.54,230.68 L758.26,230.07 L758.98,230.58 L759.7,231.03 L760.41,231.03 L761.13,230.41 L761.85,230.54 L762.57,230.95 L763.28,232.12 L764,227.3 L764.71,231.05 L765.41,231.08 L766.12,231.85 L766.82,231.71 L767.53,231.81 L768.24,231.7 L768.94,232.42 L769.65,232.24 L770.35,231.66 L771.06,231.61 L771.76,230.72 L772.47,230.9 L773.18,231.11 L773.88,231.73 L774.59,232.21 L775.29,232.18 L776,231.5" fill="none" stroke="#1f77b4" stroke-width="2.08" stroke-linejoin="round" stroke-linecap="butt"/>
<path clip-path="url(#c2)" d="M89.5,350.75 L116.5,350.75 L117,351.5 L209.5,351.5 L210,352.1 L500.5,352.1 L501,351.3 L595,351.3 L595.5,350.85 L776,350.85" fill="none" stroke="#1f77b4" stroke-width="2.08" stroke-linejoin="round" stroke-linecap="butt"/>
<path clip-path="url(#c3)" d="M89.5,439.7 L91.75,439.7 L91.75,445.7 L108,445.7 L108,451.7 L111.75,451.7 L111.75,445.7 L119.5,445.7 L119.5,451.7 L120.75,451.7 L120.75,445.7 L128,445.7 L128,451.7 L137.75,451.7 L137.75,445.7 L156,445.7 L156,439.7 L170.5,439.7 L170.5,445.7 L175.5,445.7 L175.5,451.7 L187.3,451.7 L187.3,445.7 L196.5,445.7 L196.5,439.7 L206.75,439.7 L206.75,433.7 L209.6,433.7 L209.6,439.7 L210.6,439.7 L210.6,433.7 L213.3,433.7 L213.3,439.7 L214.3,439.7 L214.3,433.7 L216.8,433.7 L216.8,439.7 L217.6,439.7 L217.6,433.7 L219.6,433.7 L219.6,427.7 L228.5,427.7 L228.5,433.7 L229.3,433.7 L229.3,427.7 L232,427.7 L232,433.7 L233.3,433.7 L233.3,427.7 L236.5,427.7 L236.5,433.7 L246.1,433.7 L246.1,439.7 L250.25,439.7 L250.25,433.7 L254,433.7 L254,427.7 L260,427.7 L260,433.7 L284,433.7 L284,439.7 L298.5,439.7 L298.5,433.7 L300.6,433.7 L300.6,427.7 L318.1,427.7 L318.1,433.7 L323.1,433.7 L323.1,439.7 L326.25,439.7 L326.25,433.7 L330,433.7 L330,427.7 L331.9,427.7 L331.9,433.7 L338.1,433.7 L338.1,439.7 L339.4,439.7 L339.4,433.7 L344.4,433.7 L344.4,427.7 L346.25,427.7 L346.25,433.7 L348.75,433.7 L348.75,439.7 L356.25,439.7 L356.25,445.7 L381.25,445.7 L381.25,433.7 L384.4,433.7 L384.4,439.7 L385,439.7 L385,433.7 L391.9,433.7 L391.9,439.7 L395.6,439.7 L398.5,457.7 L399.75,457.7 L399.75,445.7 L406.9,445.7 L406.9,439.7 L414.4,439.7 L414.4,433.7 L418.1,433.7 L418.1,439.7 L420.6,439.7 L420.6,445.7 L423.1,445.7 L423.1,439.7 L431.9,439.7 L431.9,445.7 L438.75,445.7 L438.75,451.7 L440.8,451.7 L440.8,445.7 L441.4,445.7 L441.4,451.7 L443.75,451.7 L443.75,445.7 L445,445.7 L445,439.7 L450.6,439.7 L450.6,445.7 L462.5,445.7 L462.5,457.7 L463.75,457.7 L463.75,451.7 L470.6,451.7 L470.6,457.7 L476.9,457.7 L476.9,451.7 L478.75,451.7 L478.75,445.7 L481.25,445.7 L481.25,439.7 L490.6,439.7 L490.6,433.7 L510.6,433.7 L510.6,439.7 L520,439.7 L520,445.7 L521.25,445.7 L521.25,439.7 L526.25,439.7 L526.25,445.7 L528.1,445.7 L528.1,439.7 L531.25,439.7 L531.25,445.7 L536.9,445.7 L536.9,451.7 L538.1,451.7 L538.1,445.7 L553.1,445.7 L553.1,439.7 L560.6,439.7 L560.6,433.7 L562.5,433.7 L562.5,445.7 L563.75,445.7 L563.75,433.7 L566.9,433.7 L566.9,439.7 L576.25,439.7 L576.25,433.7 L578.1,433.7 L578.1,439.7 L589.4,439.7 L589.4,433.7 L590.6,433.7 L590.6,439.7 L597.5,439.7 L597.5,445.7 L599.4,445.7 L599.4,451.7 L626.25,451.7 L626.25,445.7 L631.9,445.7 L631.9,451.7 L633.75,451.7 L633.75,445.7 L660.6,445.7 L660.6,439.7 L661.2,439.7 L661.2,433.7 L662.6,433.7 L662.6,445.7 L663.2,445.7 L663.2,433.7 L664.9,433.7 L664.9,445.7 L665.7,445.7 L665.7,439.7 L670.4,439.7 L670.4,433.7 L677.5,433.7 L677.5,439.7 L684.8,439.7 L684.8,445.7 L693.4,445.7 L693.4,439.7 L696.6,439.7 L696.6,445.7 L708.5,445.7 L708.5,439.7 L717,439.7 L717,433.7 L722.9,433.7 L722.9,439.7 L743.9,439.7 L743.9,433.7 L746.5,433.7 L746.5,439.7 L759.6,439.7 L759.6,445.7 L768.2,445.7 L768.2,451.7 L770.1,451.7 L770.1,445.7 L771.5,445.7 L771.5,439.7 L776,439.7" fill="none" stroke="#1f77b4" stroke-width="2.08" stroke-linejoin="round" stroke-linecap="butt"/>
<path clip-path="url(#c4)" d="M89.8,608 L95.5,607.25 L101.5,608 L208,608.75 L400,609.5 L490,609.5 L515,608.8 L560,607.3 L582.5,605.2 L596.7,605.5 L604.2,603.7 L618.5,604.75 L630,605.7 L639.4,606.6 L646.9,605 L654.4,605.3 L661.9,603.5 L676,605 L683.5,606.3 L697.5,607.2 L725.7,606.6 L733.2,605.3 L747.2,605.9 L769.8,608.1" fill="none" stroke="#0000ff" stroke-width="2.08" stroke-linejoin="round" stroke-linecap="butt"/>
<path clip-path="url(#c4)" d="M89.8,613.25 L95.5,612.8 L101.5,613.7 L208,614.3 L400,615.5 L490,615.5 L505,614.3 L515,614.5 L560,612.7 L582.5,611.2 L596.7,611.5 L604.2,609.25 L618.5,610 L630,611.5 L639.4,612.8 L646.9,610.6 L654.4,610.6 L661.9,609.1 L676,610.6 L683.5,611.9 L697.5,613.2 L725.7,612.5 L733.2,611 L747.2,611.5 L769.8,614.1" fill="none" stroke="#ff0000" stroke-width="2.08" stroke-linejoin="round" stroke-linecap="butt"/>
<path clip-path="url(#c4)" d="M89.8,600.8 L95.5,599.75 L103,601.25 L110.5,601.7 L118,605 L124,611.75 L128.5,619.25 L132.2,626 L134.5,634" fill="none" stroke="#008000" stroke-width="2.08" stroke-linejoin="round" stroke-linecap="butt"/>
<path clip-path="url(#c4)" d="M453,634 L454,630.5 L460.7,611.75 L468.2,603.8 L475,603.2 L490,603.8 L505,602.3 L515,601.75 L560,599.5 L575,597 L582.8,573.7 L590,592 L596.7,591.7 L604.2,586.3 L611,587.5 L618.5,592 L626,592 L632,593.2 L640.3,597.8 L646.9,593.1 L654.4,588.4 L661.9,586 L668.4,590 L676,588.8 L683.5,597.3 L690,597.8 L697.5,599.7 L712.5,598.2 L718.2,598.2 L725.7,598.75 L733.2,593.5 L740.7,596.9 L747.2,596.1 L754.8,599.1 L761.3,600.1 L769.8,601" fill="none" stroke="#008000" stroke-width="2.08" stroke-linejoin="round" stroke-linecap="butt"/>
<path clip-path="url(#c5)" d="M89.5,721.7 L640,721.65 L665,721.45 L690,721.55 L770,721.75" fill="none" stroke="#0000ff" stroke-width="2.08" stroke-linejoin="round" stroke-linecap="butt"/>
<path clip-path="url(#c5)" d="M89.5,721.85 L500,721.85 L580,721.6 L640,721.75 L665,721.6 L690,721.7 L770,721.9" fill="none" stroke="#ff0000" stroke-width="2.08" stroke-linejoin="round" stroke-linecap="butt"/>
<path clip-path="url(#c5)" d="M89.5,724.9 L770,724.9" fill="none" stroke="#008000" stroke-width="2.08" stroke-linejoin="round" stroke-linecap="butt"/>
<rect x="89.5" y="35.5" width="687.0" height="72.0" fill="none" stroke="#000" stroke-width="1.11" stroke-linejoin="miter"/>
<line x1="89.5" y1="107.5" x2="89.5" y2="112.36" stroke="#000" stroke-width="1.11"/>
<text transform="translate(85.13,127.60) scale(0.970,1)" font-size="14.72" fill="#000">0</text>
<line x1="203.5" y1="107.5" x2="203.5" y2="112.36" stroke="#000" stroke-width="1.11"/>
<text transform="translate(199.18,127.60) scale(0.970,1)" font-size="14.72" fill="#000">4</text>
<line x1="318.5" y1="107.5" x2="318.5" y2="112.36" stroke="#000" stroke-width="1.11"/>
<text transform="translate(314.09,127.60) scale(0.980,1)" font-size="14.72" fill="#000">8</text>
<line x1="432.5" y1="107.5" x2="432.5" y2="112.36" stroke="#000" stroke-width="1.11"/>
<text transform="translate(423.87,127.60) scale(0.926,1)" font-size="14.72" fill="#000">1</text>
<text transform="translate(432.33,127.60) scale(0.935,1)" font-size="14.72" fill="#000">2</text>
<line x1="547.5" y1="107.5" x2="547.5" y2="112.36" stroke="#000" stroke-width="1.11"/>
<text transform="translate(538.62,127.60) scale(0.926,1)" font-size="14.72" fill="#000">1</text>
<text transform="translate(546.97,127.60) scale(1.004,1)" font-size="14.72" fill="#000">6</text>
<line x1="662.5" y1="107.5" x2="662.5" y2="112.36" stroke="#000" stroke-width="1.11"/>
<text transform="translate(653.74,127.60) scale(0.935,1)" font-size="14.72" fill="#000">2</text>
<text transform="translate(662.38,127.60) scale(0.970,1)" font-size="14.72" fill="#000">0</text>
<line x1="776.5" y1="107.5" x2="776.5" y2="112.36" stroke="#000" stroke-width="1.11"/>
<text transform="translate(767.67,127.60) scale(0.935,1)" font-size="14.72" fill="#000">2</text>
<text transform="translate(776.31,127.60) scale(0.970,1)" font-size="14.72" fill="#000">4</text>
<line x1="84.64" y1="107.5" x2="89.5" y2="107.5" stroke="#000" stroke-width="1.11"/>
<text transform="translate(41.51,113.00) scale(1.185,1)" font-size="14.72" fill="#000">−</text>
<text transform="translate(52.72,113.00) scale(0.926,1)" font-size="14.72" fill="#000">1</text>
<text transform="translate(61.21,113.00) scale(0.970,1)" font-size="14.72" fill="#000">0</text>
<text transform="translate(69.82,113.00) scale(0.970,1)" font-size="14.72" fill="#000">0</text>
<line x1="84.64" y1="93.5" x2="89.5" y2="93.5" stroke="#000" stroke-width="1.11"/>
<text transform="translate(50.12,99.00) scale(1.185,1)" font-size="14.72" fill="#000">−</text>
<text transform="translate(61.04,99.00) scale(1.001,1)" font-size="14.72" fill="#000">9</text>
<text transform="translate(69.82,99.00) scale(0.970,1)" font-size="14.72" fill="#000">0</text>
<line x1="84.64" y1="78.5" x2="89.5" y2="78.5" stroke="#000" stroke-width="1.11"/>
<text transform="translate(50.12,84.00) scale(1.185,1)" font-size="14.72" fill="#000">−</text>
<text transform="translate(61.17,84.00) scale(0.980,1)" font-size="14.72" fill="#000">8</text>
<text transform="translate(69.82,84.00) scale(0.970,1)" font-size="14.72" fill="#000">0</text>
<line x1="84.64" y1="64.5" x2="89.5" y2="64.5" stroke="#000" stroke-width="1.11"/>
<text transform="translate(50.12,70.00) scale(1.185,1)" font-size="14.72" fill="#000">−</text>
<text transform="translate(61.27,70.00) scale(0.948,1)" font-size="14.72" fill="#000">7</text>
<text transform="translate(69.82,70.00) scale(0.970,1)" font-size="14.72" fill="#000">0</text>
<line x1="84.64" y1="50.5" x2="89.5" y2="50.5" stroke="#000" stroke-width="1.11"/>
<text transform="translate(50.12,56.00) scale(1.185,1)" font-size="14.72" fill="#000">−</text>
<text transform="translate(61.07,56.00) scale(1.004,1)" font-size="14.72" fill="#000">6</text>
<text transform="translate(69.82,56.00) scale(0.970,1)" font-size="14.72" fill="#000">0</text>
<line x1="84.64" y1="35.5" x2="89.5" y2="35.5" stroke="#000" stroke-width="1.11"/>
<text transform="translate(50.12,41.00) scale(1.185,1)" font-size="14.72" fill="#000">−</text>
<text transform="translate(61.38,41.00) scale(0.915,1)" font-size="14.72" fill="#000">5</text>
<text transform="translate(69.82,41.00) scale(0.970,1)" font-size="14.72" fill="#000">0</text>
<rect x="89.5" y="166.5" width="687.0" height="72.0" fill="none" stroke="#000" stroke-width="1.11" stroke-linejoin="miter"/>
<line x1="89.5" y1="238.5" x2="89.5" y2="243.36" stroke="#000" stroke-width="1.11"/>
<text transform="translate(85.13,258.60) scale(0.970,1)" font-size="14.72" fill="#000">0</text>
<line x1="203.5" y1="238.5" x2="203.5" y2="243.36" stroke="#000" stroke-width="1.11"/>
<text transform="translate(199.18,258.60) scale(0.970,1)" font-size="14.72" fill="#000">4</text>
<line x1="318.5" y1="238.5" x2="318.5" y2="243.36" stroke="#000" stroke-width="1.11"/>
<text transform="translate(314.09,258.60) scale(0.980,1)" font-size="14.72" fill="#000">8</text>
<line x1="432.5" y1="238.5" x2="432.5" y2="243.36" stroke="#000" stroke-width="1.11"/>
<text transform="translate(423.87,258.60) scale(0.926,1)" font-size="14.72" fill="#000">1</text>
<text transform="translate(432.33,258.60) scale(0.935,1)" font-size="14.72" fill="#000">2</text>
<line x1="547.5" y1="238.5" x2="547.5" y2="243.36" stroke="#000" stroke-width="1.11"/>
<text transform="translate(538.62,258.60) scale(0.926,1)" font-size="14.72" fill="#000">1</text>
<text transform="translate(546.97,258.60) scale(1.004,1)" font-size="14.72" fill="#000">6</text>
<line x1="662.5" y1="238.5" x2="662.5" y2="243.36" stroke="#000" stroke-width="1.11"/>
<text transform="translate(653.74,258.60) scale(0.935,1)" font-size="14.72" fill="#000">2</text>
<text transform="translate(662.38,258.60) scale(0.970,1)" font-size="14.72" fill="#000">0</text>
<line x1="776.5" y1="238.5" x2="776.5" y2="243.36" stroke="#000" stroke-width="1.11"/>
<text transform="translate(767.67,258.60) scale(0.935,1)" font-size="14.72" fill="#000">2</text>
<text transform="translate(776.31,258.60) scale(0.970,1)" font-size="14.72" fill="#000">4</text>
<line x1="84.64" y1="238.5" x2="89.5" y2="238.5" stroke="#000" stroke-width="1.11"/>
<text transform="translate(69.82,244.00) scale(0.970,1)" font-size="14.72" fill="#000">0</text>
<line x1="84.64" y1="215.5" x2="89.5" y2="215.5" stroke="#000" stroke-width="1.11"/>
<text transform="translate(44.00,221.00) scale(0.970,1)" font-size="14.72" fill="#000">4</text>
<text transform="translate(52.60,221.00) scale(0.970,1)" font-size="14.72" fill="#000">0</text>
<text transform="translate(61.21,221.00) scale(0.970,1)" font-size="14.72" fill="#000">0</text>
<text transform="translate(69.82,221.00) scale(0.970,1)" font-size="14.72" fill="#000">0</text>
<line x1="84.64" y1="192.5" x2="89.5" y2="192.5" stroke="#000" stroke-width="1.11"/>
<text transform="translate(43.95,198.00) scale(0.980,1)" font-size="14.72" fill="#000">8</text>
<text transform="translate(52.60,198.00) scale(0.970,1)" font-size="14.72" fill="#000">0</text>
<text transform="translate(61.21,198.00) scale(0.970,1)" font-size="14.72" fill="#000">0</text>
<text transform="translate(69.82,198.00) scale(0.970,1)" font-size="14.72" fill="#000">0</text>
<line x1="84.64" y1="169.5" x2="89.5" y2="169.5" stroke="#000" stroke-width="1.11"/>
<text transform="translate(35.50,175.00) scale(0.926,1)" font-size="14.72" fill="#000">1</text>
<text transform="translate(43.96,175.00) scale(0.935,1)" font-size="14.72" fill="#000">2</text>
<text transform="translate(52.60,175.00) scale(0.970,1)" font-size="14.72" fill="#000">0</text>
<text transform="translate(61.21,175.00) scale(0.970,1)" font-size="14.72" fill="#000">0</text>
<text transform="translate(69.82,175.00) scale(0.970,1)" font-size="14.72" fill="#000">0</text>
<rect x="89.5" y="297.5" width="687.0" height="72.0" fill="none" stroke="#000" stroke-width="1.11" stroke-linejoin="miter"/>
<line x1="89.5" y1="369.5" x2="89.5" y2="374.36" stroke="#000" stroke-width="1.11"/>
<text transform="translate(85.13,389.60) scale(0.970,1)" font-size="14.72" fill="#000">0</text>
<line x1="203.5" y1="369.5" x2="203.5" y2="374.36" stroke="#000" stroke-width="1.11"/>
<text transform="translate(199.18,389.60) scale(0.970,1)" font-size="14.72" fill="#000">4</text>
<line x1="318.5" y1="369.5" x2="318.5" y2="374.36" stroke="#000" stroke-width="1.11"/>
<text transform="translate(314.09,389.60) scale(0.980,1)" font-size="14.72" fill="#000">8</text>
<line x1="432.5" y1="369.5" x2="432.5" y2="374.36" stroke="#000" stroke-width="1.11"/>
<text transform="translate(423.87,389.60) scale(0.926,1)" font-size="14.72" fill="#000">1</text>
<text transform="translate(432.33,389.60) scale(0.935,1)" font-size="14.72" fill="#000">2</text>
<line x1="547.5" y1="369.5" x2="547.5" y2="374.36" stroke="#000" stroke-width="1.11"/>
<text transform="translate(538.62,389.60) scale(0.926,1)" font-size="14.72" fill="#000">1</text>
<text transform="translate(546.97,389.60) scale(1.004,1)" font-size="14.72" fill="#000">6</text>
<line x1="662.5" y1="369.5" x2="662.5" y2="374.36" stroke="#000" stroke-width="1.11"/>
<text transform="translate(653.74,389.60) scale(0.935,1)" font-size="14.72" fill="#000">2</text>
<text transform="translate(662.38,389.60) scale(0.970,1)" font-size="14.72" fill="#000">0</text>
<line x1="776.5" y1="369.5" x2="776.5" y2="374.36" stroke="#000" stroke-width="1.11"/>
<text transform="translate(767.67,389.60) scale(0.935,1)" font-size="14.72" fill="#000">2</text>
<text transform="translate(776.31,389.60) scale(0.970,1)" font-size="14.72" fill="#000">4</text>
<line x1="84.64" y1="369.5" x2="89.5" y2="369.5" stroke="#000" stroke-width="1.11"/>
<text transform="translate(50.12,375.00) scale(1.185,1)" font-size="14.72" fill="#000">−</text>
<text transform="translate(61.18,375.00) scale(0.935,1)" font-size="14.72" fill="#000">2</text>
<text transform="translate(69.82,375.00) scale(0.970,1)" font-size="14.72" fill="#000">0</text>
<line x1="84.64" y1="354.5" x2="89.5" y2="354.5" stroke="#000" stroke-width="1.11"/>
<text transform="translate(69.82,360.00) scale(0.970,1)" font-size="14.72" fill="#000">0</text>
<line x1="84.64" y1="340.5" x2="89.5" y2="340.5" stroke="#000" stroke-width="1.11"/>
<text transform="translate(61.18,346.00) scale(0.935,1)" font-size="14.72" fill="#000">2</text>
<text transform="translate(69.82,346.00) scale(0.970,1)" font-size="14.72" fill="#000">0</text>
<line x1="84.64" y1="326.5" x2="89.5" y2="326.5" stroke="#000" stroke-width="1.11"/>
<text transform="translate(61.21,332.00) scale(0.970,1)" font-size="14.72" fill="#000">4</text>
<text transform="translate(69.82,332.00) scale(0.970,1)" font-size="14.72" fill="#000">0</text>
<line x1="84.64" y1="311.5" x2="89.5" y2="311.5" stroke="#000" stroke-width="1.11"/>
<text transform="translate(61.07,317.00) scale(1.004,1)" font-size="14.72" fill="#000">6</text>
<text transform="translate(69.82,317.00) scale(0.970,1)" font-size="14.72" fill="#000">0</text>
<line x1="84.64" y1="297.5" x2="89.5" y2="297.5" stroke="#000" stroke-width="1.11"/>
<text transform="translate(61.17,303.00) scale(0.980,1)" font-size="14.72" fill="#000">8</text>
<text transform="translate(69.82,303.00) scale(0.970,1)" font-size="14.72" fill="#000">0</text>
<rect x="89.5" y="428.5" width="687.0" height="72.0" fill="none" stroke="#000" stroke-width="1.11" stroke-linejoin="miter"/>
<line x1="89.5" y1="500.5" x2="89.5" y2="505.36" stroke="#000" stroke-width="1.11"/>
<text transform="translate(85.13,520.60) scale(0.970,1)" font-size="14.72" fill="#000">0</text>
<line x1="203.5" y1="500.5" x2="203.5" y2="505.36" stroke="#000" stroke-width="1.11"/>
<text transform="translate(199.18,520.60) scale(0.970,1)" font-size="14.72" fill="#000">4</text>
<line x1="318.5" y1="500.5" x2="318.5" y2="505.36" stroke="#000" stroke-width="1.11"/>
<text transform="translate(314.09,520.60) scale(0.980,1)" font-size="14.72" fill="#000">8</text>
<line x1="432.5" y1="500.5" x2="432.5" y2="505.36" stroke="#000" stroke-width="1.11"/>
<text transform="translate(423.87,520.60) scale(0.926,1)" font-size="14.72" fill="#000">1</text>
<text transform="translate(432.33,520.60) scale(0.935,1)" font-size="14.72" fill="#000">2</text>
<line x1="547.5" y1="500.5" x2="547.5" y2="505.36" stroke="#000" stroke-width="1.11"/>
<text transform="translate(538.62,520.60) scale(0.926,1)" font-size="14.72" fill="#000">1</text>
<text transform="translate(546.97,520.60) scale(1.004,1)" font-size="14.72" fill="#000">6</text>
<line x1="662.5" y1="500.5" x2="662.5" y2="505.36" stroke="#000" stroke-width="1.11"/>
<text transform="translate(653.74,520.60) scale(0.935,1)" font-size="14.72" fill="#000">2</text>
<text transform="translate(662.38,520.60) scale(0.970,1)" font-size="14.72" fill="#000">0</text>
<line x1="776.5" y1="500.5" x2="776.5" y2="505.36" stroke="#000" stroke-width="1.11"/>
<text transform="translate(767.67,520.60) scale(0.935,1)" font-size="14.72" fill="#000">2</text>
<text transform="translate(776.31,520.60) scale(0.970,1)" font-size="14.72" fill="#000">4</text>
<line x1="84.64" y1="500.5" x2="89.5" y2="500.5" stroke="#000" stroke-width="1.11"/>
<text transform="translate(69.82,506.00) scale(0.970,1)" font-size="14.72" fill="#000">0</text>
<line x1="84.64" y1="476.5" x2="89.5" y2="476.5" stroke="#000" stroke-width="1.11"/>
<text transform="translate(69.68,482.00) scale(0.970,1)" font-size="14.72" fill="#000">4</text>
<line x1="84.64" y1="452.5" x2="89.5" y2="452.5" stroke="#000" stroke-width="1.11"/>
<text transform="translate(69.80,458.00) scale(0.980,1)" font-size="14.72" fill="#000">8</text>
<line x1="84.64" y1="428.5" x2="89.5" y2="428.5" stroke="#000" stroke-width="1.11"/>
<text transform="translate(61.78,434.00) scale(0.926,1)" font-size="14.72" fill="#000">1</text>
<text transform="translate(70.24,434.00) scale(0.935,1)" font-size="14.72" fill="#000">2</text>
<rect x="89.5" y="559.5" width="687.0" height="71.0" fill="none" stroke="#000" stroke-width="1.11" stroke-linejoin="miter"/>
<line x1="89.5" y1="630.5" x2="89.5" y2="635.36" stroke="#000" stroke-width="1.11"/>
<text transform="translate(85.13,650.60) scale(0.970,1)" font-size="14.72" fill="#000">0</text>
<line x1="203.5" y1="630.5" x2="203.5" y2="635.36" stroke="#000" stroke-width="1.11"/>
<text transform="translate(199.18,650.60) scale(0.970,1)" font-size="14.72" fill="#000">4</text>
<line x1="318.5" y1="630.5" x2="318.5" y2="635.36" stroke="#000" stroke-width="1.11"/>
<text transform="translate(314.09,650.60) scale(0.980,1)" font-size="14.72" fill="#000">8</text>
<line x1="432.5" y1="630.5" x2="432.5" y2="635.36" stroke="#000" stroke-width="1.11"/>
<text transform="translate(423.87,650.60) scale(0.926,1)" font-size="14.72" fill="#000">1</text>
<text transform="translate(432.33,650.60) scale(0.935,1)" font-size="14.72" fill="#000">2</text>
<line x1="547.5" y1="630.5" x2="547.5" y2="635.36" stroke="#000" stroke-width="1.11"/>
<text transform="translate(538.62,650.60) scale(0.926,1)" font-size="14.72" fill="#000">1</text>
<text transform="translate(546.97,650.60) scale(1.004,1)" font-size="14.72" fill="#000">6</text>
<line x1="662.5" y1="630.5" x2="662.5" y2="635.36" stroke="#000" stroke-width="1.11"/>
<text transform="translate(653.74,650.60) scale(0.935,1)" font-size="14.72" fill="#000">2</text>
<text transform="translate(662.38,650.60) scale(0.970,1)" font-size="14.72" fill="#000">0</text>
<line x1="776.5" y1="630.5" x2="776.5" y2="635.36" stroke="#000" stroke-width="1.11"/>
<text transform="translate(767.67,650.60) scale(0.935,1)" font-size="14.72" fill="#000">2</text>
<text transform="translate(776.31,650.60) scale(0.970,1)" font-size="14.72" fill="#000">4</text>
<line x1="84.64" y1="630.5" x2="89.5" y2="630.5" stroke="#000" stroke-width="1.11"/>
<text transform="translate(61.33,636.00) scale(0.926,1)" font-size="14.72" fill="#000">1</text>
<text transform="translate(69.82,636.00) scale(0.970,1)" font-size="14.72" fill="#000">0</text>
<line x1="84.64" y1="613.5" x2="89.5" y2="613.5" stroke="#000" stroke-width="1.11"/>
<text transform="translate(61.78,619.00) scale(0.926,1)" font-size="14.72" fill="#000">1</text>
<text transform="translate(70.24,619.00) scale(0.935,1)" font-size="14.72" fill="#000">2</text>
<line x1="84.64" y1="595.5" x2="89.5" y2="595.5" stroke="#000" stroke-width="1.11"/>
<text transform="translate(61.19,601.00) scale(0.926,1)" font-size="14.72" fill="#000">1</text>
<text transform="translate(69.68,601.00) scale(0.970,1)" font-size="14.72" fill="#000">4</text>
<line x1="84.64" y1="577.5" x2="89.5" y2="577.5" stroke="#000" stroke-width="1.11"/>
<text transform="translate(61.28,583.00) scale(0.926,1)" font-size="14.72" fill="#000">1</text>
<text transform="translate(69.63,583.00) scale(1.004,1)" font-size="14.72" fill="#000">6</text>
<line x1="84.64" y1="559.5" x2="89.5" y2="559.5" stroke="#000" stroke-width="1.11"/>
<text transform="translate(61.35,565.00) scale(0.926,1)" font-size="14.72" fill="#000">1</text>
<text transform="translate(69.80,565.00) scale(0.980,1)" font-size="14.72" fill="#000">8</text>
<rect x="89.5" y="690.5" width="687.0" height="71.0" fill="none" stroke="#000" stroke-width="1.11" stroke-linejoin="miter"/>
<line x1="89.5" y1="761.5" x2="89.5" y2="766.36" stroke="#000" stroke-width="1.11"/>
<text transform="translate(85.13,781.60) scale(0.970,1)" font-size="14.72" fill="#000">0</text>
<line x1="203.5" y1="761.5" x2="203.5" y2="766.36" stroke="#000" stroke-width="1.11"/>
<text transform="translate(199.18,781.60) scale(0.970,1)" font-size="14.72" fill="#000">4</text>
<line x1="318.5" y1="761.5" x2="318.5" y2="766.36" stroke="#000" stroke-width="1.11"/>
<text transform="translate(314.09,781.60) scale(0.980,1)" font-size="14.72" fill="#000">8</text>
<line x1="432.5" y1="761.5" x2="432.5" y2="766.36" stroke="#000" stroke-width="1.11"/>
<text transform="translate(423.87,781.60) scale(0.926,1)" font-size="14.72" fill="#000">1</text>
<text transform="translate(432.33,781.60) scale(0.935,1)" font-size="14.72" fill="#000">2</text>
<line x1="547.5" y1="761.5" x2="547.5" y2="766.36" stroke="#000" stroke-width="1.11"/>
<text transform="translate(538.62,781.60) scale(0.926,1)" font-size="14.72" fill="#000">1</text>
<text transform="translate(546.97,781.60) scale(1.004,1)" font-size="14.72" fill="#000">6</text>
<line x1="662.5" y1="761.5" x2="662.5" y2="766.36" stroke="#000" stroke-width="1.11"/>
<text transform="translate(653.74,781.60) scale(0.935,1)" font-size="14.72" fill="#000">2</text>
<text transform="translate(662.38,781.60) scale(0.970,1)" font-size="14.72" fill="#000">0</text>
<line x1="776.5" y1="761.5" x2="776.5" y2="766.36" stroke="#000" stroke-width="1.11"/>
<text transform="translate(767.67,781.60) scale(0.935,1)" font-size="14.72" fill="#000">2</text>
<text transform="translate(776.31,781.60) scale(0.970,1)" font-size="14.72" fill="#000">4</text>
<line x1="84.64" y1="761.5" x2="89.5" y2="761.5" stroke="#000" stroke-width="1.11"/>
<text transform="translate(50.12,767.00) scale(1.185,1)" font-size="14.72" fill="#000">−</text>
<text transform="translate(61.33,767.00) scale(0.926,1)" font-size="14.72" fill="#000">1</text>
<text transform="translate(69.82,767.00) scale(0.970,1)" font-size="14.72" fill="#000">0</text>
<line x1="84.64" y1="743.5" x2="89.5" y2="743.5" stroke="#000" stroke-width="1.11"/>
<text transform="translate(59.01,749.00) scale(1.185,1)" font-size="14.72" fill="#000">−</text>
<text transform="translate(70.27,749.00) scale(0.915,1)" font-size="14.72" fill="#000">5</text>
<line x1="84.64" y1="725.5" x2="89.5" y2="725.5" stroke="#000" stroke-width="1.11"/>
<text transform="translate(69.82,731.00) scale(0.970,1)" font-size="14.72" fill="#000">0</text>
<line x1="84.64" y1="707.5" x2="89.5" y2="707.5" stroke="#000" stroke-width="1.11"/>
<text transform="translate(70.27,713.00) scale(0.915,1)" font-size="14.72" fill="#000">5</text>
<line x1="84.64" y1="690.5" x2="89.5" y2="690.5" stroke="#000" stroke-width="1.11"/>
<text transform="translate(61.33,696.00) scale(0.926,1)" font-size="14.72" fill="#000">1</text>
<text transform="translate(69.82,696.00) scale(0.970,1)" font-size="14.72" fill="#000">0</text>
<text transform="translate(234.33,26.75) scale(0.827,1)" font-size="17.20" fill="#000">F</text>
<text transform="translate(243.67,26.75) scale(0.962,1)" font-size="17.20" fill="#000">M</text>
<text transform="translate(257.78,26.75) scale(0.972,1)" font-size="17.20" fill="#000">A</text>
<text transform="translate(347.69,26.75) scale(1.060,1)" font-size="17.20" fill="#000">T</text>
<text transform="translate(358.59,26.75) scale(1.055,1)" font-size="17.20" fill="#000">h</text>
<text transform="translate(368.99,26.75) scale(1.245,1)" font-size="17.20" fill="#000">r</text>
<text transform="translate(375.53,26.75) scale(1.049,1)" font-size="17.20" fill="#000">e</text>
<text transform="translate(386.09,26.75) scale(0.931,1)" font-size="17.20" fill="#000">s</text>
<text transform="translate(394.57,26.75) scale(1.055,1)" font-size="17.20" fill="#000">h</text>
<text transform="translate(405.06,26.75) scale(1.033,1)" font-size="17.20" fill="#000">o</text>
<text transform="translate(415.50,26.75) scale(0.993,1)" font-size="17.20" fill="#000">l</text>
<text transform="translate(419.87,26.75) scale(1.056,1)" font-size="17.20" fill="#000">d</text>
<text transform="translate(535.14,26.75) scale(0.994,1)" font-size="17.20" fill="#000">2</text>
<text transform="translate(545.86,26.75) scale(1.031,1)" font-size="17.20" fill="#000">0</text>
<text transform="translate(556.50,26.75) scale(0.994,1)" font-size="17.20" fill="#000">2</text>
<text transform="translate(567.43,26.75) scale(0.973,1)" font-size="17.20" fill="#000">5</text>
<text transform="translate(577.48,26.75) scale(1.186,1)" font-size="17.20" fill="#000">/</text>
<text transform="translate(583.56,26.75) scale(1.031,1)" font-size="17.20" fill="#000">0</text>
<text transform="translate(594.18,26.75) scale(1.042,1)" font-size="17.20" fill="#000">8</text>
<text transform="translate(604.50,26.75) scale(1.186,1)" font-size="17.20" fill="#000">/</text>
<text transform="translate(610.57,26.75) scale(1.031,1)" font-size="17.20" fill="#000">0</text>
<text transform="translate(621.32,26.75) scale(1.009,1)" font-size="17.20" fill="#000">7</text>
<g transform="translate(32.1,72.1) rotate(-90)">
<text transform="translate(-15.59,0.00) scale(1.025,1)" font-size="14.72" fill="#000">d</text>
<text transform="translate(-6.66,0.00) scale(0.917,1)" font-size="14.72" fill="#000">B</text>
<text transform="translate(2.82,0.00) scale(1.075,1)" font-size="14.72" fill="#000">m</text>
</g>
<text transform="translate(381.59,157.75) scale(1.061,1)" font-size="17.20" fill="#000">T</text>
<text transform="translate(389.83,157.75) scale(1.246,1)" font-size="17.20" fill="#000">r</text>
<text transform="translate(397.03,157.75) scale(0.994,1)" font-size="17.20" fill="#000">i</text>
<text transform="translate(401.39,157.75) scale(1.057,1)" font-size="17.20" fill="#000">g</text>
<text transform="translate(411.99,157.75) scale(1.057,1)" font-size="17.20" fill="#000">g</text>
<text transform="translate(422.58,157.75) scale(1.051,1)" font-size="17.20" fill="#000">e</text>
<text transform="translate(432.79,157.75) scale(1.246,1)" font-size="17.20" fill="#000">r</text>
<text transform="translate(440.01,157.75) scale(0.933,1)" font-size="17.20" fill="#000">s</text>
<text transform="translate(448.25,157.75) scale(1.180,1)" font-size="17.20" fill="#000">/</text>
<text transform="translate(454.33,157.75) scale(0.933,1)" font-size="17.20" fill="#000">s</text>
<text transform="translate(462.72,157.75) scale(1.051,1)" font-size="17.20" fill="#000">e</text>
<text transform="translate(473.05,157.75) scale(0.976,1)" font-size="17.20" fill="#000">c</text>
<g transform="translate(25.85,203.1) rotate(-90)">
<text transform="translate(-20.70,0.00) scale(0.876,1)" font-size="14.72" fill="#000">C</text>
<text transform="translate(-10.99,0.00) scale(1.003,1)" font-size="14.72" fill="#000">o</text>
<text transform="translate(-2.44,0.00) scale(1.017,1)" font-size="14.72" fill="#000">u</text>
<text transform="translate(6.41,0.00) scale(1.017,1)" font-size="14.72" fill="#000">n</text>
<text transform="translate(15.03,0.00) scale(1.261,1)" font-size="14.72" fill="#000">t</text>
</g>
<text transform="translate(379.59,288.75) scale(1.065,1)" font-size="17.20" fill="#000">T</text>
<text transform="translate(387.54,288.75) scale(1.054,1)" font-size="17.20" fill="#000">e</text>
<text transform="translate(397.94,288.75) scale(1.112,1)" font-size="17.20" fill="#000">m</text>
<text transform="translate(414.35,288.75) scale(1.062,1)" font-size="17.20" fill="#000">p</text>
<text transform="translate(424.78,288.75) scale(1.054,1)" font-size="17.20" fill="#000">e</text>
<text transform="translate(435.03,288.75) scale(1.251,1)" font-size="17.20" fill="#000">r</text>
<text transform="translate(442.18,288.75) scale(0.878,1)" font-size="17.20" fill="#000">a</text>
<text transform="translate(452.20,288.75) scale(1.300,1)" font-size="17.20" fill="#000">t</text>
<text transform="translate(458.89,288.75) scale(1.052,1)" font-size="17.20" fill="#000">u</text>
<text transform="translate(469.35,288.75) scale(1.251,1)" font-size="17.20" fill="#000">r</text>
<text transform="translate(475.92,288.75) scale(1.054,1)" font-size="17.20" fill="#000">e</text>
<text transform="translate(359.07,419.75) scale(0.872,1)" font-size="17.20" fill="#000">S</text>
<text transform="translate(369.66,419.75) scale(0.879,1)" font-size="17.20" fill="#000">a</text>
<text transform="translate(379.70,419.75) scale(1.300,1)" font-size="17.20" fill="#000">t</text>
<text transform="translate(386.30,419.75) scale(1.056,1)" font-size="17.20" fill="#000">e</text>
<text transform="translate(396.89,419.75) scale(1.000,1)" font-size="17.20" fill="#000">l</text>
<text transform="translate(401.56,419.75) scale(1.000,1)" font-size="17.20" fill="#000">l</text>
<text transform="translate(406.22,419.75) scale(1.000,1)" font-size="17.20" fill="#000">i</text>
<text transform="translate(410.58,419.75) scale(1.300,1)" font-size="17.20" fill="#000">t</text>
<text transform="translate(417.18,419.75) scale(1.056,1)" font-size="17.20" fill="#000">e</text>
<text transform="translate(427.81,419.75) scale(0.937,1)" font-size="17.20" fill="#000">s</text>
<text transform="translate(440.96,419.75) scale(1.066,1)" font-size="17.20" fill="#000">T</text>
<text transform="translate(449.24,419.75) scale(1.253,1)" font-size="17.20" fill="#000">r</text>
<text transform="translate(456.41,419.75) scale(0.879,1)" font-size="17.20" fill="#000">a</text>
<text transform="translate(466.53,419.75) scale(0.981,1)" font-size="17.20" fill="#000">c</text>
<text transform="translate(475.81,419.75) scale(1.093,1)" font-size="17.20" fill="#000">k</text>
<text transform="translate(484.79,419.75) scale(1.056,1)" font-size="17.20" fill="#000">e</text>
<text transform="translate(495.11,419.75) scale(1.063,1)" font-size="17.20" fill="#000">d</text>
<g transform="translate(53.1,465.1) rotate(-90)">
<text transform="translate(-28.32,0.00) scale(0.932,1)" font-size="14.72" fill="#000">N</text>
<text transform="translate(-17.97,0.00) scale(1.017,1)" font-size="14.72" fill="#000">u</text>
<text transform="translate(-9.17,0.00) scale(1.075,1)" font-size="14.72" fill="#000">m</text>
<text transform="translate(4.42,0.00) scale(1.026,1)" font-size="14.72" fill="#000">b</text>
<text transform="translate(13.07,0.00) scale(1.019,1)" font-size="14.72" fill="#000">e</text>
<text transform="translate(21.56,0.00) scale(1.209,1)" font-size="14.72" fill="#000">r</text>
</g>
<text transform="translate(397.18,549.75) scale(0.971,1)" font-size="17.20" fill="#000">V</text>
<text transform="translate(407.29,549.75) scale(1.017,1)" font-size="17.20" fill="#000">o</text>
<text transform="translate(417.58,549.75) scale(0.978,1)" font-size="17.20" fill="#000">l</text>
<text transform="translate(421.83,549.75) scale(1.279,1)" font-size="17.20" fill="#000">t</text>
<text transform="translate(428.51,549.75) scale(0.860,1)" font-size="17.20" fill="#000">a</text>
<text transform="translate(438.37,549.75) scale(1.040,1)" font-size="17.20" fill="#000">g</text>
<text transform="translate(448.78,549.75) scale(1.033,1)" font-size="17.20" fill="#000">e</text>
<text transform="translate(459.18,549.75) scale(0.917,1)" font-size="17.20" fill="#000">s</text>
<g transform="translate(51.85,595.6) rotate(-90)">
<text transform="translate(-16.36,0.00) scale(0.957,1)" font-size="14.72" fill="#000">V</text>
<text transform="translate(-7.90,0.00) scale(1.003,1)" font-size="14.72" fill="#000">o</text>
<text transform="translate(0.80,0.00) scale(0.964,1)" font-size="14.72" fill="#000">l</text>
<text transform="translate(4.39,0.00) scale(1.261,1)" font-size="14.72" fill="#000">t</text>
<text transform="translate(10.12,0.00) scale(0.904,1)" font-size="14.72" fill="#000">s</text>
</g>
<text transform="translate(397.97,680.60) scale(0.892,1)" font-size="17.20" fill="#000">C</text>
<text transform="translate(409.58,680.60) scale(1.036,1)" font-size="17.20" fill="#000">u</text>
<text transform="translate(419.88,680.60) scale(1.232,1)" font-size="17.20" fill="#000">r</text>
<text transform="translate(426.42,680.60) scale(1.232,1)" font-size="17.20" fill="#000">r</text>
<text transform="translate(432.88,680.60) scale(1.038,1)" font-size="17.20" fill="#000">e</text>
<text transform="translate(443.19,680.60) scale(1.036,1)" font-size="17.20" fill="#000">n</text>
<text transform="translate(453.44,680.60) scale(1.285,1)" font-size="17.20" fill="#000">t</text>
<text transform="translate(460.25,680.60) scale(0.921,1)" font-size="17.20" fill="#000">s</text>
<g transform="translate(39.85,726.6) rotate(-90)">
<text transform="translate(-19.16,0.00) scale(0.950,1)" font-size="14.72" fill="#000">A</text>
<text transform="translate(-9.54,0.00) scale(1.075,1)" font-size="14.72" fill="#000">m</text>
<text transform="translate(4.05,0.00) scale(1.026,1)" font-size="14.72" fill="#000">p</text>
<text transform="translate(12.96,0.00) scale(0.904,1)" font-size="14.72" fill="#000">s</text>
</g>
<g transform="translate(39,341.5) rotate(-90)"><text transform="translate(5.73,0) scale(0.89,1)" font-size="14.72" fill="#000">C</text><text transform="translate(-0.56,-5.1) scale(1.1,1)" font-size="10" font-style="italic" fill="#000">o</text></g>
<text transform="translate(117.69,589.80) scale(0.916,1)" font-size="14.72" fill="#0000ff">B</text>
<text transform="translate(127.26,589.80) scale(0.848,1)" font-size="14.72" fill="#0000ff">a</text>
<text transform="translate(135.54,589.80) scale(1.260,1)" font-size="14.72" fill="#0000ff">t</text>
<text transform="translate(140.98,589.80) scale(1.260,1)" font-size="14.72" fill="#0000ff">t</text>
<line x1="158.9" y1="586.6" x2="189.9" y2="586.6" stroke="#0000ff" stroke-width="2.08"/>
<text transform="translate(231.42,589.80) scale(0.978,1)" font-size="14.72" fill="#ff0000">L</text>
<text transform="translate(238.91,589.80) scale(1.011,1)" font-size="14.72" fill="#ff0000">o</text>
<text transform="translate(247.62,589.80) scale(0.855,1)" font-size="14.72" fill="#ff0000">a</text>
<text transform="translate(256.02,589.80) scale(1.033,1)" font-size="14.72" fill="#ff0000">d</text>
<line x1="273.9" y1="586.6" x2="304.0" y2="586.6" stroke="#ff0000" stroke-width="2.08"/>
<text transform="translate(346.60,589.80) scale(0.825,1)" font-size="14.72" fill="#008000">P</text>
<text transform="translate(354.57,589.80) scale(0.946,1)" font-size="14.72" fill="#008000">V</text>
<line x1="388.1" y1="586.6" x2="419.0" y2="586.6" stroke="#008000" stroke-width="2.08"/>
<text transform="translate(117.69,701.70) scale(0.916,1)" font-size="14.72" fill="#0000ff">B</text>
<text transform="translate(127.26,701.70) scale(0.848,1)" font-size="14.72" fill="#0000ff">a</text>
<text transform="translate(135.54,701.70) scale(1.260,1)" font-size="14.72" fill="#0000ff">t</text>
<text transform="translate(140.98,701.70) scale(1.260,1)" font-size="14.72" fill="#0000ff">t</text>
<line x1="158.9" y1="699.8" x2="189.9" y2="699.8" stroke="#0000ff" stroke-width="2.08"/>
<text transform="translate(231.42,701.70) scale(0.978,1)" font-size="14.72" fill="#ff0000">L</text>
<text transform="translate(238.91,701.70) scale(1.011,1)" font-size="14.72" fill="#ff0000">o</text>
<text transform="translate(247.62,701.70) scale(0.855,1)" font-size="14.72" fill="#ff0000">a</text>
<text transform="translate(256.02,701.70) scale(1.033,1)" font-size="14.72" fill="#ff0000">d</text>
<line x1="273.9" y1="699.8" x2="304.0" y2="699.8" stroke="#ff0000" stroke-width="2.08"/>
<text transform="translate(346.60,701.70) scale(0.825,1)" font-size="14.72" fill="#008000">P</text>
<text transform="translate(354.57,701.70) scale(0.946,1)" font-size="14.72" fill="#008000">V</text>
<line x1="388.1" y1="699.8" x2="419.0" y2="699.8" stroke="#008000" stroke-width="2.08"/>
</svg></body></html>
